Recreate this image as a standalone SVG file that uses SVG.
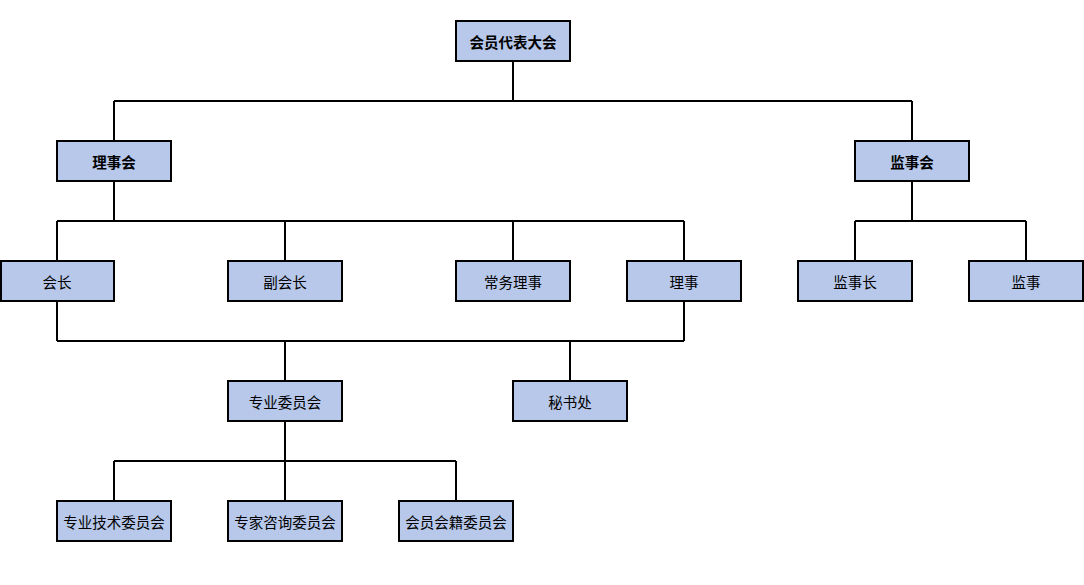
<svg xmlns="http://www.w3.org/2000/svg" width="1084" height="585" viewBox="0 0 1084 585">
<style>
.box{fill:#B7C8EA;stroke:#000;stroke-width:2}
.t{font-family:"Noto Sans CJK SC","Noto Sans CJK TC",sans-serif;font-size:14.5px;fill:#000;text-anchor:middle;dominant-baseline:central}
.b{font-weight:bold}
.c{fill:none;stroke:#000;stroke-width:2}
</style>
<rect width="1084" height="585" fill="#fff"/>
<g id="connectors">
<path class="c" d="M513 61V101M114 101H912M114 101V141M912 101V141"/>
<path class="c" d="M114 181V221M57 221H684M57 221V261M285 221V261M513 221V261M684 221V261"/>
<path class="c" d="M912 181V221M855 221H1026M855 221V261M1026 221V261"/>
<path class="c" d="M57 301V341M684 301V341M57 341H684M285 341V381M570 341V381"/>
<path class="c" d="M285 421V461M114 461H456M114 461V501M285 461V501M456 461V501"/>
</g>
<g id="n0"><rect class="box" x="456" y="21" width="114" height="40"/><text class="t b" x="513" y="41">会员代表大会</text></g>
<g id="n1"><rect class="box" x="57" y="141" width="114" height="40"/><text class="t b" x="114" y="161">理事会</text></g>
<g id="n2"><rect class="box" x="855" y="141" width="114" height="40"/><text class="t b" x="912" y="161">监事会</text></g>
<g id="n3"><rect class="box" x="1" y="261" width="113" height="40"/><text class="t" x="57" y="281">会长</text></g>
<g id="n4"><rect class="box" x="228" y="261" width="114" height="40"/><text class="t" x="285" y="281">副会长</text></g>
<g id="n5"><rect class="box" x="456" y="261" width="114" height="40"/><text class="t" x="513" y="281">常务理事</text></g>
<g id="n6"><rect class="box" x="627" y="261" width="114" height="40"/><text class="t" x="684" y="281">理事</text></g>
<g id="n7"><rect class="box" x="798" y="261" width="114" height="40"/><text class="t" x="855" y="281">监事长</text></g>
<g id="n8"><rect class="box" x="969" y="261" width="114" height="40"/><text class="t" x="1026" y="281">监事</text></g>
<g id="n9"><rect class="box" x="228" y="381" width="114" height="40"/><text class="t" x="285" y="401">专业委员会</text></g>
<g id="n10"><rect class="box" x="513" y="381" width="114" height="40"/><text class="t" x="570" y="401">秘书处</text></g>
<g id="n11"><rect class="box" x="57" y="501" width="114" height="40"/><text class="t" x="114" y="521">专业技术委员会</text></g>
<g id="n12"><rect class="box" x="228" y="501" width="114" height="40"/><text class="t" x="285" y="521">专家咨询委员会</text></g>
<g id="n13"><rect class="box" x="399" y="501" width="114" height="40"/><text class="t" x="456" y="521">会员会籍委员会</text></g>
</svg>
